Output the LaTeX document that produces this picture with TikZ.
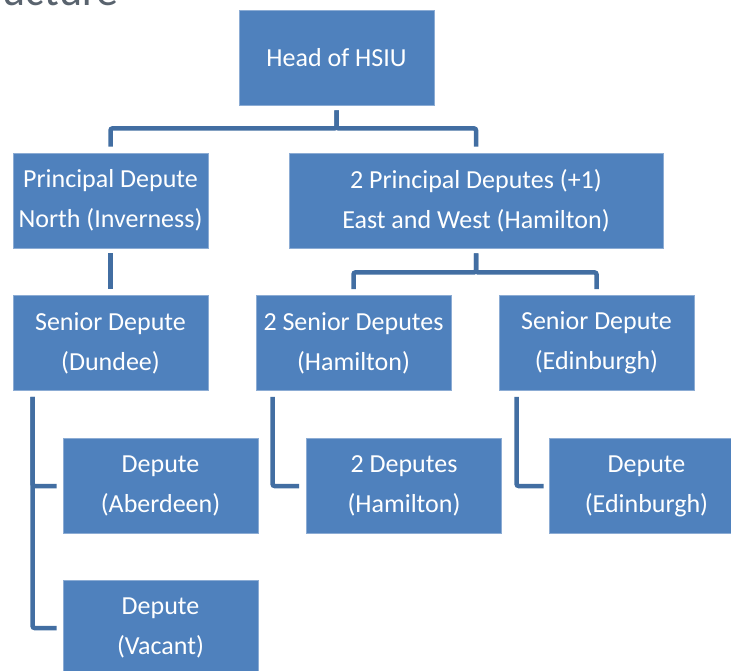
\documentclass[tikz,border=0pt]{standalone}
\usepackage{fontspec}
\setmainfont{Carlito}
\usepackage{xcolor}
\usepackage{tikz}
\definecolor{boxblue}{RGB}{79, 129, 189}
\definecolor{edgeblue}{RGB}{140, 172, 212}
\definecolor{linkblue}{RGB}{66, 110, 162}
\definecolor{titlegray}{RGB}{89, 99, 110}

\begin{document}
\begin{tikzpicture}[x=1pt, y=-1pt,
    unit/.style={draw=edgeblue, line width=0.8pt, fill=boxblue, text=white,
        minimum width=195pt, minimum height=95pt, inner sep=0pt, align=center,
        font=\fontsize{26}{40}\selectfont},
    link/.style={draw=linkblue, line width=4.5pt, rounded corners=2pt,
        shorten <=5pt, shorten >=6pt},
    title/.style={text=titlegray, font=\fontsize{44}{50}\selectfont, inner sep=0pt}]
    \useasboundingbox (0,0) rectangle (731,670);
    \clip (0,0) rectangle (731,670);

    \node[title, anchor=base east] (title) at (119,5) {Structure};

    % top of the chart
    \node[unit] (head) at (336.5,57.5) {Head of HSIU};
    \node[unit] (north) at (110.5,200.5) {Principal Depute\\North (Inverness)};
    \node[unit, minimum width=374pt] (east) at (476,200.5) {2 Principal Deputes (+1)\\East and West (Hamilton)};

    % senior deputes
    \node[unit] (dundee) at (110.5,343) {Senior Depute\\(Dundee)};
    \node[unit] (hamsen) at (353.5,343) {2 Senior Deputes\\(Hamilton)};
    \node[unit] (edsen) at (596.5,343) {Senior Depute\\(Edinburgh)};

    % deputes
    \node[unit] (aberdeen) at (160.5,486) {Depute\\(Aberdeen)};
    \node[unit] (vacant) at (160.5,628) {Depute\\(Vacant)};
    \node[unit] (hamdep) at (404,486) {2 Deputes\\(Hamilton)};
    \node[unit] (eddep) at (646.5,486) {Depute\\(Edinburgh)};

    \draw[link] (head.south) -- ++(0,23) -| (north.north);
    \draw[link] (head.south) -- ++(0,23) -| (east.north);
    \draw[link] (north.south) -- (dundee.north);
    \draw[link] (east.south) -- ++(0,24) -| (hamsen.north);
    \draw[link] (east.south) -- ++(0,24) -| (edsen.north);

    \draw[link, shorten <=0pt] (dundee.south west) ++(20,6) |- (aberdeen.west);
    \draw[link, shorten <=0pt] (dundee.south west) ++(20,6) |- (vacant.west);
    \draw[link, shorten <=0pt, shorten >=7pt] (hamsen.south west) ++(17,6) |- (hamdep.west);
    \draw[link, shorten <=0pt, shorten >=5pt] (edsen.south west) ++(18,6) |- (eddep.west);
\end{tikzpicture}
\end{document}
